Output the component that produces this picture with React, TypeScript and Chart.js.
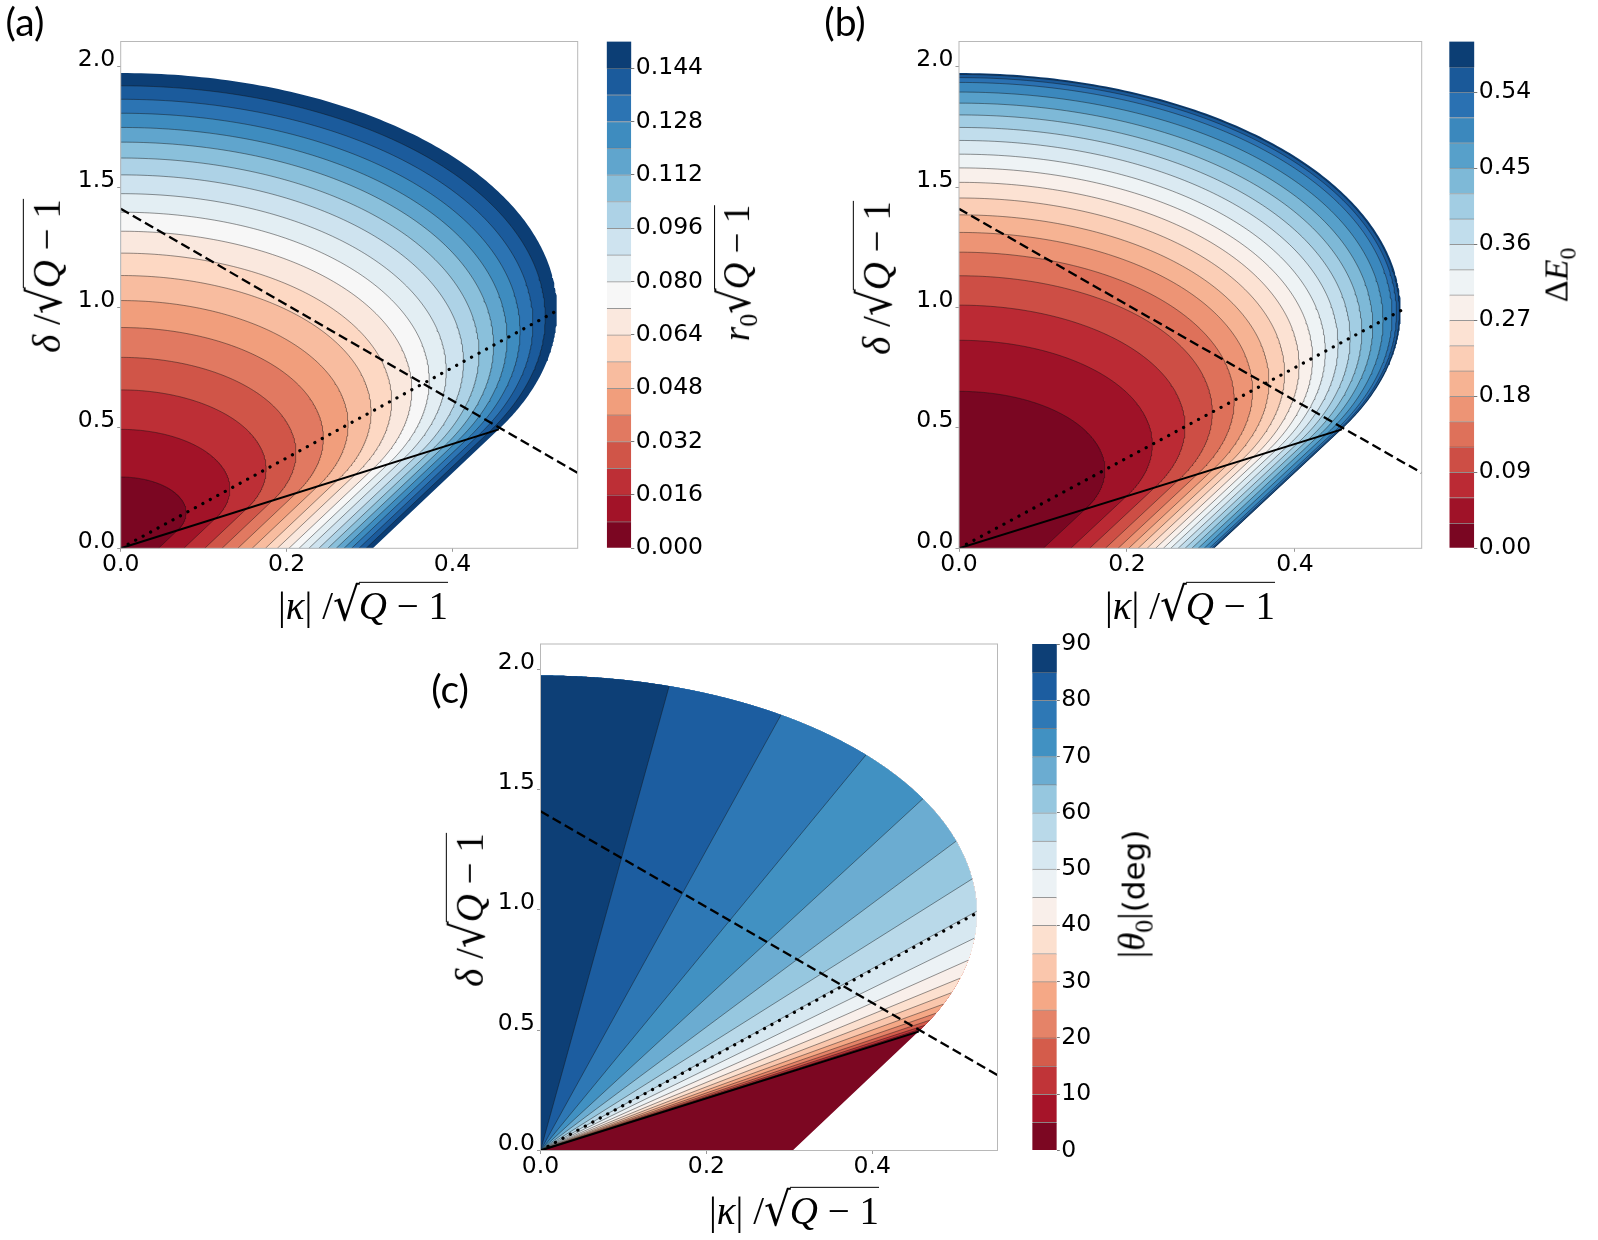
import React, { useEffect, useRef } from "react";
import { Chart, registerables } from "chart.js";

Chart.register(...registerables);

// ---------------- data ----------------
const X_MAX = 0.551;
const Y_MAX = 2.105;
const xTickValues = [0.0, 0.2, 0.4];
const xTickLabels = ["0.0", "0.2", "0.4"];
const yTickValues = [0.0, 0.5, 1.0, 1.5, 2.0];
const yTickLabels = ["0.0", "0.5", "1.0", "1.5", "2.0"];

// outer boundary of the region where the solution exists
const boundaryTopDelta = 1.974; // δ/√(Q−1) where the boundary meets |κ| = 0
const boundaryBottomKappa = 0.304; // |κ|/√(Q−1) where the lower boundary meets δ = 0
const boundaryApexKappa = 0.526; // largest |κ|/√(Q−1) on the boundary

// guide lines (solid, dotted, dashed)
const solidLineX = [0.0, 0.456];
const solidLineY = [0.0, 0.494];
const dottedLineX = [0.0, 0.526];
const dottedLineY = [0.0, 0.987];
const dashedLineX = [0.0, 0.551];
const dashedLineY = [1.41, 0.313];

// (a) r0 √(Q−1)
const r0Levels = [0.0, 0.008, 0.016, 0.024, 0.032, 0.04, 0.048, 0.056, 0.064, 0.072, 0.08, 0.088, 0.096, 0.104, 0.112, 0.12, 0.128, 0.136, 0.144, 0.152];
const r0TickValues = [0.0, 0.016, 0.032, 0.048, 0.064, 0.08, 0.096, 0.112, 0.128, 0.144];
const r0TickLabels = ["0.000", "0.016", "0.032", "0.048", "0.064", "0.080", "0.096", "0.112", "0.128", "0.144"];
// δ-axis crossing of the contour lines 0.008 … 0.144
const r0ContourDelta = [0.296, 0.494, 0.658, 0.793, 0.917, 1.029, 1.133, 1.226, 1.317, 1.396, 1.473, 1.551, 1.621, 1.687, 1.748, 1.807, 1.865, 1.921];

// (b) ΔE0
const dELevels = [0.0, 0.03, 0.06, 0.09, 0.12, 0.15, 0.18, 0.21, 0.24, 0.27, 0.3, 0.33, 0.36, 0.39, 0.42, 0.45, 0.48, 0.51, 0.54, 0.57, 0.6];
const dETickValues = [0.0, 0.09, 0.18, 0.27, 0.36, 0.45, 0.54];
const dETickLabels = ["0.00", "0.09", "0.18", "0.27", "0.36", "0.45", "0.54"];
// δ-axis crossing of the contour lines 0.03 … 0.57
const dEContourDelta = [0.652, 0.864, 1.01, 1.132, 1.23, 1.312, 1.385, 1.455, 1.52, 1.58, 1.637, 1.694, 1.748, 1.8, 1.849, 1.895, 1.935, 1.955, 1.968];

// (c) |θ0| (deg)
const thetaLevels = [0, 5, 10, 15, 20, 25, 30, 35, 40, 45, 50, 55, 60, 65, 70, 75, 80, 85, 90];
const thetaTickValues = [0, 10, 20, 30, 40, 50, 60, 70, 80, 90];
const thetaTickLabels = ["0", "10", "20", "30", "40", "50", "60", "70", "80", "90"];
// δ/|κ| slope of the (straight) contour lines 5° … 85°
const thetaContourSlopes = [1.0884, 1.101, 1.1225, 1.1539, 1.1964, 1.252, 1.3237, 1.4154, 1.5334, 1.6869, 1.8904, 2.1686, 2.5657, 3.1703, 4.1894, 6.2442, 12.4408];

// ---------------- colours ----------------
const RDBU = ["#67001f", "#b2182b", "#d6604d", "#f4a582", "#fddbc7", "#f7f7f7", "#d1e5f0", "#92c5de", "#4393c3", "#2166ac", "#053061"];
function hexRgb(h) {
  return [parseInt(h.slice(1, 3), 16), parseInt(h.slice(3, 5), 16), parseInt(h.slice(5, 7), 16)];
}
function rdbu(t) {
  const x = Math.min(1, Math.max(0, t)) * (RDBU.length - 1);
  const i = Math.min(Math.floor(x), RDBU.length - 2);
  const f = x - i;
  const a = hexRgb(RDBU[i]);
  const b = hexRgb(RDBU[i + 1]);
  return `rgb(${Math.round(a[0] + (b[0] - a[0]) * f)},${Math.round(a[1] + (b[1] - a[1]) * f)},${Math.round(a[2] + (b[2] - a[2]) * f)})`;
}
const bandColor = (i, n) => rdbu((i + 0.5) / n);

// ---------------- boundary geometry ----------------
const gam = 1 / boundaryTopDelta;
const aCoef = 1 / boundaryBottomKappa;
const bCoef = boundaryApexKappa * boundaryApexKappa * aCoef * aCoef * gam;
const borderSlope = aCoef / (2 * bCoef);

function boundaryAtSlope(s) {
  const u = 1 / ((aCoef * aCoef) / (4 * bCoef * s) + gam * s);
  return { x: u, y: s * u };
}
function arcFrom(s0) {
  const pts = [];
  const phi0 = Math.atan(s0);
  const N = 180;
  for (let i = 0; i <= N; i++) {
    if (i === N) pts.push({ x: 0, y: boundaryTopDelta });
    else pts.push(boundaryAtSlope(Math.tan(phi0 + ((Math.PI / 2 - phi0) * i) / N)));
  }
  return pts;
}
function levelLine(k) {
  return [{ x: boundaryBottomKappa, y: 0 }, ...arcFrom(borderSlope)].map((p) => ({ x: p.x * k, y: p.y * k }));
}
function levelRegion(k) {
  return [{ x: 0, y: 0 }, ...levelLine(k)];
}

// ---------------- layout ----------------
const panelA = { L: 120.7, T: 41.5, R: 577.7, B: 548.3 };
const panelB = { L: 959, T: 41.5, R: 1421.7, B: 548.3 };
const panelC = { L: 540.5, T: 644, R: 997.5, B: 1150.5 };
const cbarA = { L: 606.7, T: 41.5, R: 631.3, B: 548.3 };
const cbarB = { L: 1449.3, T: 41.5, R: 1474.3, B: 548.3 };
const cbarC = { L: 1032.2, T: 644, R: 1056.8, B: 1150.5 };

function place(box, pl, pt, pr, pb) {
  const left = Math.floor(box.L - pl);
  const top = Math.floor(box.T - pt);
  const width = Math.ceil(box.R + pr) - left;
  const height = Math.ceil(box.B + pb) - top;
  return { left, top, width, height, inL: box.L - left, inT: box.T - top, inR: left + width - box.R, inB: top + height - box.B };
}

const TICK_FONT = { family: "'DejaVu Sans', sans-serif", size: 23.5, lineHeight: 1 };
const TICK_COLOR = "#9a9a9a";

const framePlugin = {
  id: "frame",
  afterDatasetsDraw(chart) {
    const { ctx, chartArea: a } = chart;
    ctx.save();
    ctx.strokeStyle = "#b8b8b8";
    ctx.lineWidth = 1;
    ctx.strokeRect(a.left, a.top, a.right - a.left, a.bottom - a.top);
    ctx.restore();
  },
};

const pts = (xs, ys) => xs.map((x, i) => ({ x, y: ys[i] }));

function guideDatasets() {
  return [
    { data: pts(solidLineX, solidLineY), borderColor: "#000", borderWidth: 2, fill: false, order: 0 },
    { data: pts(dottedLineX, dottedLineY), borderColor: "#000", borderWidth: 3.2, borderDash: [0.1, 8.4], borderCapStyle: "round", fill: false, order: 0 },
    { data: pts(dashedLineX, dashedLineY), borderColor: "#000", borderWidth: 2.3, borderDash: [9.5, 4.5], fill: false, order: 0 },
  ];
}

function contourBandDatasets(levels, crossings) {
  const n = levels.length - 1;
  const ds = [];
  ds.push({ data: levelRegion(1), backgroundColor: bandColor(n - 1, n), borderWidth: 0, fill: "shape", order: 200 });
  crossings.forEach((d, j) => {
    const k = d / boundaryTopDelta;
    ds.push({ data: levelRegion(k), backgroundColor: bandColor(j, n), borderWidth: 0, fill: "shape", order: 100 + j });
  });
  crossings.forEach((d) => {
    const k = d / boundaryTopDelta;
    ds.push({ data: levelLine(k), borderColor: "rgba(20,20,20,0.75)", borderWidth: 0.6, fill: false, order: 10 });
  });
  return ds;
}

function thetaDatasets() {
  const n = thetaLevels.length - 1;
  const ds = [];
  ds.push({ data: levelRegion(1), backgroundColor: bandColor(0, n), borderWidth: 0, fill: "shape", order: 200 });
  thetaContourSlopes.forEach((s, j) => {
    const region = [{ x: 0, y: 0 }, ...arcFrom(s)];
    ds.push({ data: region, backgroundColor: bandColor(j + 1, n), borderWidth: 0, fill: "shape", order: 150 - j });
  });
  thetaContourSlopes.forEach((s) => {
    ds.push({ data: [{ x: 0, y: 0 }, boundaryAtSlope(s)], borderColor: "rgba(20,20,20,0.75)", borderWidth: 0.6, fill: false, order: 10 });
  });
  return ds;
}

function panelConfig(f, datasets) {
  return {
    type: "line",
    data: { datasets },
    options: {
      animation: false,
      responsive: false,
      events: [],
      layout: { autoPadding: false, padding: { left: 0, top: f.inT, right: f.inR, bottom: 0 } },
      elements: { point: { radius: 0 }, line: { tension: 0 } },
      plugins: { legend: { display: false }, tooltip: { enabled: false } },
      scales: {
        x: {
          type: "linear",
          min: 0,
          max: X_MAX,
          afterBuildTicks: (s) => {
            s.ticks = xTickValues.map((value) => ({ value }));
          },
          afterFit: (s) => {
            s.height = f.inB;
          },
          grid: { drawOnChartArea: false, drawTicks: true, tickLength: 3.5, color: TICK_COLOR, lineWidth: 1 },
          border: { display: false },
          ticks: { callback: (_v, i) => xTickLabels[i], font: TICK_FONT, color: "#000", padding: 1.0, maxRotation: 0, autoSkip: false },
        },
        y: {
          type: "linear",
          min: 0,
          max: Y_MAX,
          afterBuildTicks: (s) => {
            s.ticks = yTickValues.map((value) => ({ value }));
          },
          afterFit: (s) => {
            s.width = f.inL;
          },
          grid: { drawOnChartArea: false, drawTicks: true, tickLength: 3.5, color: TICK_COLOR, lineWidth: 1 },
          border: { display: false },
          ticks: { callback: (_v, i) => yTickLabels[i], font: TICK_FONT, color: "#000", padding: 2.0, labelOffset: -6.6, autoSkip: false },
        },
      },
    },
    plugins: [framePlugin],
  };
}

function colorbarConfig(f, levels, tickValues, tickLabels) {
  const n = levels.length - 1;
  const datasets = [];
  for (let i = 0; i < n; i++) {
    datasets.push({
      data: [[levels[i], levels[i + 1]]],
      backgroundColor: bandColor(i, n),
      borderColor: "rgba(50,50,50,0.5)",
      borderWidth: { top: i < n - 1 ? 1 : 0, bottom: 0, left: 0, right: 0 },
      borderSkipped: false,
      grouped: false,
      barPercentage: 1,
      categoryPercentage: 1,
    });
  }
  return {
    type: "bar",
    data: { labels: ["cb"], datasets },
    options: {
      animation: false,
      responsive: false,
      events: [],
      layout: { autoPadding: false, padding: { left: f.inL, top: f.inT, right: 0, bottom: f.inB } },
      plugins: { legend: { display: false }, tooltip: { enabled: false } },
      scales: {
        x: { display: false },
        y: {
          type: "linear",
          position: "right",
          min: levels[0],
          max: levels[n],
          afterBuildTicks: (s) => {
            s.ticks = tickValues.map((value) => ({ value }));
          },
          afterFit: (s) => {
            s.width = f.inR;
          },
          grid: { drawOnChartArea: false, drawTicks: true, tickLength: 3, color: "#777", lineWidth: 1 },
          border: { display: false },
          ticks: { callback: (_v, i) => tickLabels[i], font: TICK_FONT, color: "#000", padding: 1.5, autoSkip: false },
        },
      },
    },
  };
}

const fA = place(panelA, 100, 30, 30, 60);
const fB = place(panelB, 100, 30, 30, 60);
const fC = place(panelC, 100, 30, 30, 60);
const gA = place(cbarA, 0, 20, 95, 20);
const gB = place(cbarB, 0, 20, 95, 20);
const gC = place(cbarC, 0, 20, 60, 20);
const frames = [fA, fB, fC, gA, gB, gC];

// ---------------- text helpers ----------------
const MATH = "'Liberation Serif', 'DejaVu Serif', serif";
const SANS = "'DejaVu Sans', sans-serif";
const PANEL_FONT = "Lato, 'Open Sans', sans-serif";

function Sqrt({ size, children }) {
  return (
    <span style={{ whiteSpace: "nowrap" }}>
      <span style={{ fontStyle: "normal", fontFamily: SANS, fontSize: size * 1.08, display: "inline-block", transform: "scaleY(1.1)", marginRight: -1 }}>√</span>
      <span style={{ borderTop: `${(size * 0.05).toFixed(2)}px solid #000`, paddingTop: 1 }}>{children}</span>
    </span>
  );
}

function QMinusOne({ size }) {
  return (
    <Sqrt size={size}>
      <i>Q</i>
      <span style={{ fontStyle: "normal" }}> − 1</span>
    </Sqrt>
  );
}

function Label({ x, y, rotate, size, family, children }) {
  return (
    <div
      style={{
        position: "absolute",
        left: x,
        top: y,
        transform: `translate(-50%, -50%)${rotate ? " rotate(-90deg)" : ""}`,
        whiteSpace: "nowrap",
        fontFamily: family || MATH,
        fontSize: size,
        lineHeight: 1.1,
        color: "#000",
      }}
    >
      {children}
    </div>
  );
}

const TS = 39;
const CS = 37;

export default function App() {
  const r0 = useRef(null);
  const r1 = useRef(null);
  const r2 = useRef(null);
  const r3 = useRef(null);
  const r4 = useRef(null);
  const r5 = useRef(null);
  const refs = [r0, r1, r2, r3, r4, r5];

  useEffect(() => {
    const configs = [
      panelConfig(fA, [...guideDatasets(), ...contourBandDatasets(r0Levels, r0ContourDelta)]),
      panelConfig(fB, [...guideDatasets(), ...contourBandDatasets(dELevels, dEContourDelta)]),
      panelConfig(fC, [...guideDatasets(), ...thetaDatasets()]),
      colorbarConfig(gA, r0Levels, r0TickValues, r0TickLabels),
      colorbarConfig(gB, dELevels, dETickValues, dETickLabels),
      colorbarConfig(gC, thetaLevels, thetaTickValues, thetaTickLabels),
    ];
    const charts = configs.map((c, i) => new Chart(refs[i].current, c));
    return () => charts.forEach((c) => c.destroy());
  }, []);

  return (
    <div style={{ position: "absolute", left: 0, top: 0, width: 1598, height: 1240, background: "#fff", overflow: "hidden" }}>
      {frames.map((f, i) => (
        <canvas
          key={i}
          ref={refs[i]}
          width={f.width}
          height={f.height}
          style={{ position: "absolute", left: f.left, top: f.top, width: f.width, height: f.height }}
        />
      ))}

      <Label x={25} y={21} size={39} family={PANEL_FONT}>(a)</Label>
      <Label x={845} y={21} size={39} family={PANEL_FONT}>(b)</Label>
      <Label x={450} y={688} size={39} family={PANEL_FONT}>(c)</Label>

      {/* x axis titles */}
      <Label x={363} y={605} size={TS}>
        <span>|<i>κ</i>|</span> /<QMinusOne size={TS} />
      </Label>
      <Label x={1190} y={605} size={TS}>
        <span>|<i>κ</i>|</span> /<QMinusOne size={TS} />
      </Label>
      <Label x={794} y={1210} size={TS}>
        <span>|<i>κ</i>|</span> /<QMinusOne size={TS} />
      </Label>

      {/* y axis titles */}
      <Label x={46} y={276} size={TS} rotate>
        <i>δ</i> /<QMinusOne size={TS} />
      </Label>
      <Label x={876} y={278} size={TS} rotate>
        <i>δ</i> /<QMinusOne size={TS} />
      </Label>
      <Label x={469} y={910} size={TS} rotate>
        <i>δ</i> /<QMinusOne size={TS} />
      </Label>

      {/* colour bar titles */}
      <Label x={739} y={273} size={CS} rotate>
        <i>r</i>
        <sub style={{ fontSize: CS * 0.7 }}>0</sub>
        <QMinusOne size={CS} />
      </Label>
      <Label x={1559} y={275} size={34} rotate>
        Δ<i>E</i>
        <sub style={{ fontSize: 34 * 0.7 }}>0</sub>
      </Label>
      <Label x={1136} y={894} size={CS} rotate>
        |<i>θ</i>
        <sub style={{ fontSize: CS * 0.7 }}>0</sub>|<span style={{ fontFamily: SANS, fontSize: 31 }}>(deg)</span>
      </Label>
    </div>
  );
}
